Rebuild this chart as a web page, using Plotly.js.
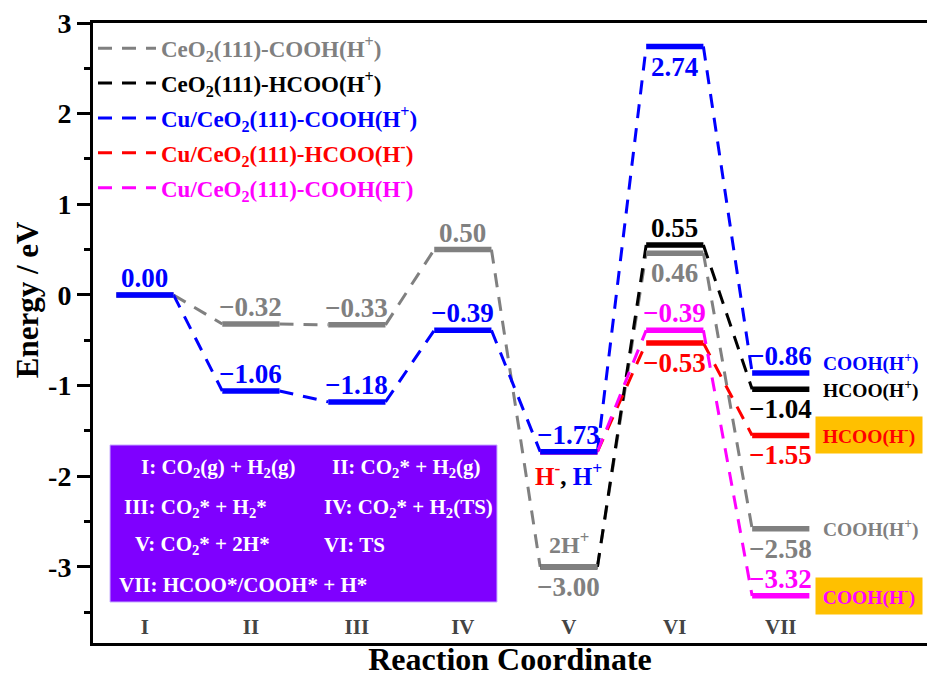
<!DOCTYPE html>
<html>
<head>
<meta charset="utf-8">
<script src="https://cdn.plot.ly/plotly-3.0.1.min.js"></script>
<style>html,body{margin:0;padding:0;background:#fff;}#chart{width:927px;height:677px;}</style>
</head>
<body>
<div id="chart"></div>
<script>
// ---------- data ----------
const categories = ['I', 'II', 'III', 'IV', 'V', 'VI', 'VII'];
const seriesNames = [
  'CeO<sub>2</sub>(111)-COOH(H<sup>+</sup>)',
  'CeO<sub>2</sub>(111)-HCOO(H<sup>+</sup>)',
  'Cu/CeO<sub>2</sub>(111)-COOH(H<sup>+</sup>)',
  'Cu/CeO<sub>2</sub>(111)-HCOO(H<sup>-</sup>)',
  'Cu/CeO<sub>2</sub>(111)-COOH(H<sup>-</sup>)'
];
const ceo2COOH_Hp   = [0.00, -0.32, -0.33, 0.50, -3.00, 0.46, -2.58];
const ceo2HCOO_Hp   = [null, null, null, null, -3.00, 0.55, -1.04];
const cuCOOH_Hp     = [0.00, -1.06, -1.18, -0.39, -1.73, 2.74, -0.86];
const cuHCOO_Hm     = [null, null, null, null, -1.73, -0.53, -1.55];
const cuCOOH_Hm     = [null, null, null, null, -1.73, -0.39, -3.32];
const endLabels = ['COOH(H<sup>+</sup>)', 'HCOO(H<sup>+</sup>)', 'COOH(H<sup>+</sup>)', 'HCOO(H<sup>-</sup>)', 'COOH(H<sup>-</sup>)'];
const yTickVals = [-3, -2, -1, 0, 1, 2, 3];
const yTickText = ['-3', '-2', '-1', '0', '1', '2', '3'];
const stepKeyLeft  = ['I: CO<sub>2</sub>(g) + H<sub>2</sub>(g)', 'III: CO<sub>2</sub>* + H<sub>2</sub>*', 'V: CO<sub>2</sub>* + 2H*', 'VII: HCOO*/COOH* + H*'];
const stepKeyRight = ['II: CO<sub>2</sub>* + H<sub>2</sub>(g)', 'IV: CO<sub>2</sub>* + H<sub>2</sub>(TS)', 'VI: TS', ''];

// ---------- style ----------
const FONT = 'Liberation Serif, Times New Roman, serif';
const colors = ['#808080', '#000000', '#0000FF', '#FF0000', '#FF00FF'];
const seriesVals = [ceo2COOH_Hp, ceo2HCOO_Hp, cuCOOH_Hp, cuHCOO_Hm, cuCOOH_Hm];
// value label placement per series: 'a' above, 'b' below, '' none
const placement = [
  ['', 'a', 'a', 'a', 'b', 'b', 'b'],
  ['', '', '', '', '', 'a', 'b'],
  ['a', 'a', 'a', 'a', 'a', 'b', 'a'],
  ['', '', '', '', '', 'b', 'b'],
  ['', '', '', '', '', 'a', 'a']
];
const endLabelShift = [0, 0, 10, 0, 0];
const endLabelBox = [false, false, false, true, true];
const HW = 0.27;   // half width of level bars (x units)
const drawOrder = [1, 3, 4, 0, 2];

const traces = [];
// dashed connectors (legend entries)
seriesVals.forEach((vals, s) => {
  const xs = [], ys = [];
  for (let i = 0; i < vals.length - 1; i++) {
    if (vals[i] !== null && vals[i + 1] !== null) {
      xs.push(i + 1 + HW, i + 2 - HW, null);
      ys.push(vals[i], vals[i + 1], null);
    }
  }
  traces.push({
    x: xs, y: ys, type: 'scatter', mode: 'lines',
    name: '<span style="color:' + colors[s] + '">' + seriesNames[s] + '</span>',
    legendgroup: 'g' + s,
    line: {color: colors[s], width: 3, dash: '14px,10px'},
    hoverinfo: 'skip', connectgaps: false
  });
});
// solid level bars
drawOrder.forEach(s => {
  const vals = seriesVals[s];
  const xs = [], ys = [];
  vals.forEach((v, i) => {
    if (v !== null) { xs.push(i + 1 - HW, i + 1 + HW, null); ys.push(v, v, null); }
  });
  traces.push({
    x: xs, y: ys, type: 'scatter', mode: 'lines', showlegend: false,
    line: {color: colors[s], width: 5.5}, hoverinfo: 'skip', connectgaps: false
  });
});

const annotations = [];
const fmt = v => (v < 0 ? '\u2212' : '') + Math.abs(v).toFixed(2);
seriesVals.forEach((vals, s) => {
  vals.forEach((v, i) => {
    const p = placement[s][i];
    if (v === null || !p) return;
    annotations.push({
      x: i + 1, y: v, xref: 'x', yref: 'y', text: fmt(v), showarrow: false,
      xanchor: 'center', yanchor: 'middle', yshift: p === 'a' ? 17 : -20,
      font: {family: FONT, size: 27, color: colors[s], weight: 'bold'}
    });
  });
  // right-hand end labels at VII
  const last = vals[vals.length - 1];
  const box = endLabelBox[s];
  annotations.push({
    x: box ? 7.325 : 7.375, y: last, xref: 'x', yref: 'y', text: endLabels[s], showarrow: false,
    xanchor: 'left', yanchor: 'middle', yshift: endLabelShift[s],
    bgcolor: box ? '#FFC000' : 'rgba(0,0,0,0)', width: box ? 100 : undefined, height: box ? 30 : undefined,
    borderpad: box ? 3 : 1, align: 'center',
    font: {family: FONT, size: 19.5, color: colors[s], weight: 'bold'}
  });
});
// extra notes at V
annotations.push({
  x: 5, y: cuCOOH_Hp[4], xref: 'x', yref: 'y', showarrow: false, yshift: -22,
  text: '<span style="color:#FF0000">H<sup>-</sup></span>, <span style="color:#0000FF">H<sup>+</sup></span>',
  font: {family: FONT, size: 25, color: '#000', weight: 'bold'}
});
annotations.push({
  x: 5, y: ceo2COOH_Hp[4], xref: 'x', yref: 'y', showarrow: false, yshift: 24,
  text: '2H<sup>+</sup>',
  font: {family: FONT, size: 24, color: '#808080', weight: 'bold'}
});
// y axis title
annotations.push({
  x: -0.079, y: 0.553, xref: 'paper', yref: 'paper', showarrow: false, textangle: -90,
  text: 'Energy / eV', xanchor: 'center', yanchor: 'middle',
  font: {family: FONT, size: 31, color: '#000', weight: 'bold'}
});
// step key inside purple box
const rowY = [0.282, 0.218, 0.158, 0.0935];
const leftX = [0.0552, 0.0348, 0.048, 0.0288];
const rightX = [0.2842, 0.2746, 0.2746, 0.2746];
stepKeyLeft.forEach((t, r) => {
  annotations.push({x: leftX[r], y: rowY[r], xref: 'paper', yref: 'paper', text: t, showarrow: false,
    xanchor: 'left', yanchor: 'middle', font: {family: FONT, size: 21, color: '#FFFFFF', weight: 'bold'}});
  if (stepKeyRight[r]) annotations.push({x: rightX[r], y: rowY[r], xref: 'paper', yref: 'paper', text: stepKeyRight[r], showarrow: false,
    xanchor: 'left', yanchor: 'middle', font: {family: FONT, size: 21, color: '#FFFFFF', weight: 'bold'}});
});

const layout = {
  width: 927, height: 677,
  margin: {l: 93, r: 0, t: 23, b: 34},
  paper_bgcolor: '#FFFFFF', plot_bgcolor: '#FFFFFF',
  font: {family: FONT, color: '#000', weight: 'bold'},
  showlegend: true,
  legend: {
    x: 0.0, y: 0.994, xanchor: 'left', yanchor: 'top', bgcolor: 'rgba(0,0,0,0)',
    traceorder: 'grouped', tracegroupgap: 2, itemwidth: 58,
    font: {family: FONT, size: 23, color: '#000', weight: 'bold'}
  },
  xaxis: {
    range: [0.51, 8.38], tickmode: 'array', tickvals: [1, 2, 3, 4, 5, 6, 7], ticktext: categories,
    ticks: '', ticklabelposition: 'inside', ticklabelstandoff: 6, tickfont: {family: FONT, size: 21, weight: 'bold'},
    showgrid: false, zeroline: false, showline: true, linewidth: 3, linecolor: '#000', mirror: true,
    automargin: false,
    title: {text: 'Reaction Coordinate', font: {family: FONT, size: 32, weight: 'bold'}, standoff: 13}
  },
  yaxis: {
    range: [-3.84, 3.0], tickmode: 'array', tickvals: yTickVals, ticktext: yTickText,
    ticks: 'outside', ticklen: 13, tickwidth: 3, tickcolor: '#000',
    minor: {ticks: 'outside', dtick: 0.5, tick0: 0, ticklen: 6, tickwidth: 3, tickcolor: '#000'},
    tickfont: {family: FONT, size: 28, weight: 'bold'},
    showgrid: false, zeroline: false, showline: true, linewidth: 3, linecolor: '#000', mirror: false,
    automargin: false
  },
  shapes: [{
    type: 'rect', xref: 'paper', yref: 'paper', x0: 0.0204, x1: 0.4844, y0: 0.0661, y1: 0.3194,
    fillcolor: '#7F00FF', line: {color: '#C8B0FF', width: 1}, layer: 'above'
  }],
  annotations: annotations
};

Plotly.newPlot('chart', traces, layout, {staticPlot: true, displayModeBar: false});
</script>
</body>
</html>
